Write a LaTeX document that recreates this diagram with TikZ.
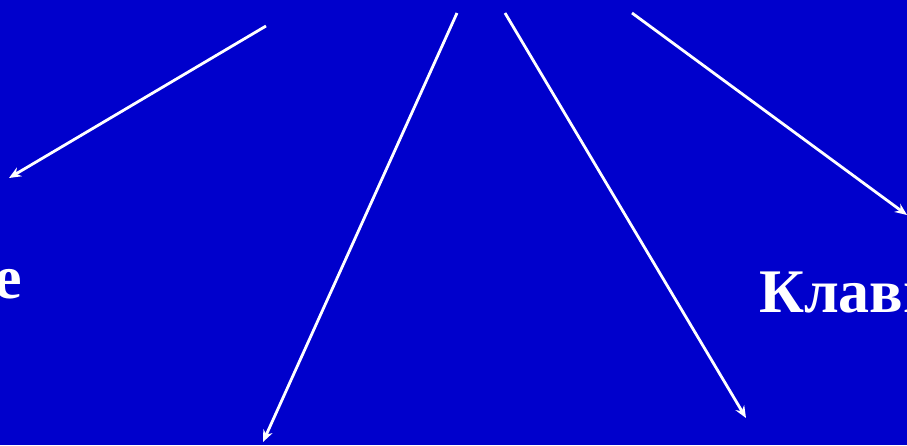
\documentclass[tikz,border=0pt]{standalone}
\usepackage{fontspec}
\setmainfont{Liberation Serif}
\usetikzlibrary{arrows.meta}
\definecolor{bgblue}{RGB}{0,0,204}
\begin{document}
\begin{tikzpicture}[x=1pt,y=-1pt,
  arr/.style={draw=white,line width=2.8pt,-{Stealth[length=12pt,width=10pt]}},
  lbl/.style={text=white,font=\fontsize{62}{70}\selectfont\bfseries,inner sep=0pt}]
\useasboundingbox (0,0) rectangle (907,445);
\clip (0,0) rectangle (907,445);
\fill[bgblue] (0,0) rectangle (907,445);
\coordinate (s1) at (266,26);  \coordinate (e1) at (9,178);
\coordinate (s2) at (457,13);  \coordinate (e2) at (263,442);
\coordinate (s3) at (505,13);  \coordinate (e3) at (746,418);
\coordinate (s4) at (632,13);  \coordinate (e4) at (907,215);
\draw[arr] (s1) -- (e1);
\draw[arr] (s2) -- (e2);
\draw[arr] (s3) -- (e3);
\draw[arr] (s4) -- (e4);
\node[lbl,anchor=base east] (left) at (22,298) {е};
\node[lbl,anchor=base west] (right) at (759,312) {Клави};
\end{tikzpicture}
\end{document}
